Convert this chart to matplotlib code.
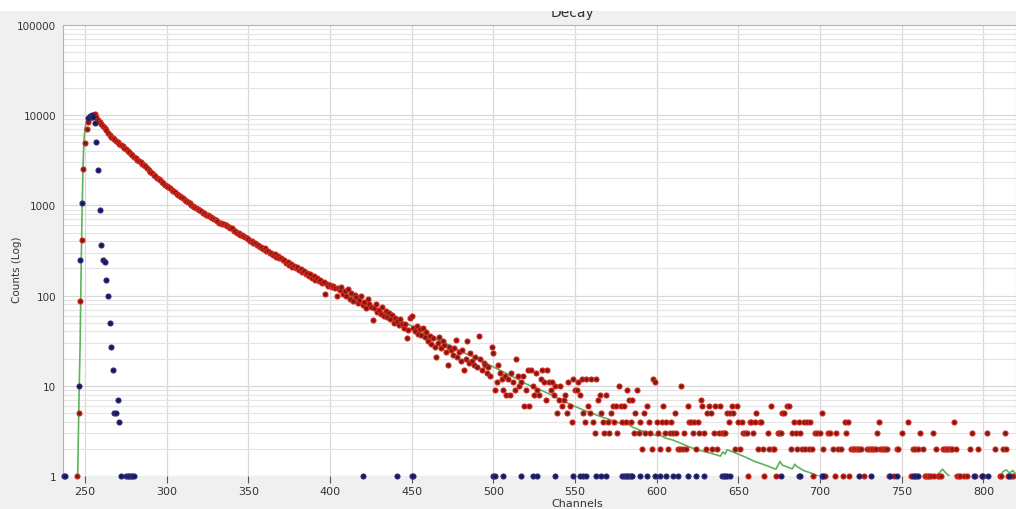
import numpy as np
import matplotlib
matplotlib.use('Agg')
import matplotlib.pyplot as plt
from matplotlib.ticker import LogLocator, NullFormatter

# decay data: one count per channel starting at first_channel (0 = no count)
first_channel = 245
decay_counts = [
    1, 5, 87, 415, 2560, 4900, 7100, 8500, 9300, 9700, 10000,
    10300, 9500, 8900, 8300, 7900, 7500, 7200, 6800, 6400, 6000,
    5800, 5600, 5400, 5200, 5000, 4850, 4700, 4550, 4350, 4200,
    4050, 3900, 3750, 3600, 3450, 3350, 3200, 3100, 3000, 2900,
    2780, 2700, 2580, 2480, 2350, 2290, 2200, 2130, 2020, 1950,
    1900, 1820, 1770, 1700, 1650, 1590, 1560, 1500, 1440, 1400,
    1350, 1310, 1270, 1240, 1200, 1160, 1120, 1090, 1050, 1020,
    990, 960, 940, 910, 890, 860, 830, 815, 790, 775,
    760, 745, 725, 705, 690, 680, 645, 640, 625, 615,
    605, 585, 580, 555, 555, 525, 520, 500, 495, 475,
    470, 455, 450, 430, 428, 405, 402, 385, 383, 365,
    362, 345, 348, 330, 333, 312, 315, 298, 300, 285,
    286, 270, 272, 258, 262, 245, 248, 232, 236, 220,
    224, 210, 214, 200, 206, 190, 196, 182, 188, 174,
    180, 165, 172, 158, 166, 150, 157, 144, 150, 137,
    142, 105, 135, 128, 132, 124, 127, 120, 100, 122,
    116, 124, 104, 112, 98, 118, 92, 108, 88, 101,
    96, 82, 90, 100, 79, 86, 72, 91, 80, 75,
    53, 72, 80, 66, 70, 63, 75, 60, 68, 58,
    64, 55, 61, 50, 57, 52, 47, 55, 49, 44,
    48, 34, 42, 57, 59, 44, 40, 46, 38, 43,
    37, 44, 35, 39, 31, 36, 29, 34, 27, 21,
    30, 35, 26, 31, 28, 24, 17, 27, 25, 22,
    26, 32, 21, 24, 19, 25, 15, 20, 31, 18,
    23, 19, 17, 21, 16, 36, 20, 15, 18, 17,
    14, 16, 13, 27, 23, 9, 11, 17, 14, 12,
    9, 13, 8, 12, 8, 14, 11, 9, 20, 13,
    10, 11, 13, 6, 9, 15, 6, 15, 10, 8,
    14, 9, 8, 12, 15, 11, 7, 15, 11, 9,
    11, 8, 10, 5, 7, 10, 6, 7, 8, 5,
    11, 6, 4, 12, 9, 9, 11, 8, 12, 5,
    4, 12, 6, 5, 12, 4, 3, 12, 7, 8,
    5, 4, 3, 8, 4, 3, 5, 6, 4, 6,
    3, 10, 6, 4, 6, 4, 9, 7, 4, 7,
    3, 5, 9, 3, 4, 2, 5, 3, 6, 4,
    3, 2, 12, 11, 4, 3, 2, 4, 6, 3,
    4, 2, 3, 4, 3, 5, 3, 2, 2, 10,
    2, 3, 2, 6, 4, 4, 3, 4, 2, 4,
    3, 7, 6, 3, 2, 5, 6, 5, 2, 3,
    6, 2, 3, 6, 3, 3, 3, 5, 4, 5,
    6, 5, 2, 6, 4, 2, 4, 3, 3, 3,
    1, 4, 4, 3, 4, 5, 2, 4, 4, 2,
    1, 0, 3, 2, 6, 2, 2, 1, 3, 3,
    3, 5, 5, 0, 6, 6, 2, 3, 4, 3,
    2, 4, 3, 2, 4, 2, 4, 2, 4, 2,
    1, 3, 3, 0, 3, 5, 2, 1, 0, 3,
    3, 0, 2, 1, 3, 2, 0, 2, 1, 4,
    3, 4, 1, 2, 2, 2, 2, 2, 2, 2,
    0, 1, 0, 2, 2, 2, 2, 2, 2, 3,
    4, 2, 2, 2, 2, 2, 1, 0, 0, 1,
    0, 2, 2, 0, 3, 0, 0, 0, 4, 0,
    1, 2, 2, 1, 2, 3, 0, 2, 1, 1,
    1, 1, 1, 3, 1, 2, 1, 1, 1, 2,
    2, 2, 2, 2, 2, 2, 4, 2, 1, 1,
    1, 0, 1, 0, 1, 0, 2, 3, 0, 1,
    0, 2, 0, 1, 1, 0, 3, 0, 0, 0,
    0, 2, 0, 0, 1, 1, 2, 3, 2, 1,
    0, 1, 1,
]

# instrument response (IRF) points
irf_channels = [237, 238, 246, 247, 248, 252, 253, 254, 255, 256, 257, 258,
                259, 260, 261, 262, 263, 264, 265, 266, 267, 268, 269, 270,
                271, 272, 275, 276, 277, 278, 279, 280,
                420, 441, 450, 451, 500, 501, 506, 517, 524, 527, 538, 549,
                553, 555, 557, 563, 566, 569, 579, 580, 581, 582, 583, 584,
                585, 590, 594, 599, 602, 606, 610, 613, 619, 624, 629, 640,
                641, 642, 643, 645, 676, 687, 688, 701, 702, 724, 731, 743,
                747, 757, 758, 760, 794, 799, 803, 816]
irf_counts = [1, 1, 10, 248, 1050, 9200, 9900, 10000, 9600, 8100, 5000, 2460,
              890, 360, 245, 235, 150, 100, 50, 27, 15, 5, 5, 7,
              4, 1, 1, 1, 1, 1, 1, 1,
              1, 1, 1, 1, 1, 1, 1, 1, 1, 1, 1, 1,
              1, 1, 1, 1, 1, 1, 1, 1, 1, 1, 1, 1,
              1, 1, 1, 1, 1, 1, 1, 1, 1, 1, 1, 1,
              1, 1, 1, 1, 1, 1, 1, 1, 1, 1, 1, 1,
              1, 1, 1, 1, 1, 1, 1, 1]

# fitted curve vertices
fit_channels = [245.0, 245.5, 246.2, 247.0, 247.6, 248.2, 248.8, 249.3, 250.0,
                251.0, 252.5, 254.0, 255.5, 258, 260, 265, 270, 275, 280, 285,
                290, 295, 300, 305, 310, 315, 320, 325, 330, 335, 340, 345,
                350, 355, 360, 365, 370, 375, 380, 385, 390, 395, 400, 405,
                410, 415, 420, 425, 430, 435, 440, 445, 450, 455, 460, 465,
                470, 475, 480, 485, 490, 495, 500, 505, 510, 515, 520, 525,
                530, 535, 540, 545, 550, 555, 560, 565, 570, 575, 580, 582,
                585, 590, 595, 600, 602, 605, 610, 615, 620, 625, 630, 635,
                639, 640.5, 642, 643, 645, 650, 655, 660, 665, 670, 673,
                675.5, 677, 683, 684.5, 686, 690, 695, 700, 705, 720, 730,
                732, 734, 760, 770, 773, 775, 777, 780, 785, 787, 800, 810,
                812, 814, 816, 818, 820]
fit_counts = [0.9, 1.0, 6, 30, 200, 900, 2800, 5200, 7200,
              8600, 9600, 10100, 10200, 9000, 8000, 6100, 5000, 4200, 3450, 2880,
              2350, 1960, 1650, 1400, 1200, 1030, 890, 775, 690, 615, 550, 482,
              425, 372, 330, 290, 257, 225, 200, 178, 158, 142, 129, 118,
              105, 94, 84, 76, 69, 62, 56, 51, 46, 41, 37, 33,
              30, 27, 24, 22, 20, 18, 16.2, 14.6, 13.1, 11.8, 10.5, 9.6,
              8.8, 8.0, 7.2, 6.5, 5.9, 5.4, 5.0, 4.6, 4.3, 4.0, 3.7, 3.8,
              3.5, 3.2, 3.0, 2.8, 2.85, 2.65, 2.5, 2.3, 2.1, 1.95, 1.85, 1.75,
              1.66, 1.85, 1.75, 1.95, 1.9, 1.75, 1.6, 1.45, 1.35, 1.25, 1.19,
              1.45, 1.32, 1.2, 1.35, 1.27, 1.15, 1.07, 0.98, 0.9, 0.8, 0.95,
              1.02, 0.95, 0.85, 0.95, 1.08, 1.19, 1.08, 0.97, 1.02, 0.97, 0.9, 0.97,
              1.12, 1.17, 1.08, 1.15, 1.05]

x_ticks = [250, 300, 350, 400, 450, 500, 550, 600, 650, 700, 750, 800]
y_ticks = [1, 10, 100, 1000, 10000, 100000]

decay = np.array(decay_counts, dtype=float)
decay_ch = np.arange(first_channel, first_channel + len(decay))
decay[decay <= 0] = np.nan

W, H = 1016, 510
fig = plt.figure(figsize=(W / 100, H / 100), dpi=100, facecolor='#f0f0f0')


def bare_axes(rect, color):
    # plain coloured box with no ticks or frame
    a = fig.add_axes(rect)
    a.set_facecolor(color)
    a.set_xticks([])
    a.set_yticks([])
    for sp in a.spines.values():
        sp.set_visible(False)
    return a


# white strip at the very top, grey header band below it
strip = bare_axes([0, 1 - 12 / H, 1, 12 / H], 'white')
header = bare_axes([0, 1 - 26 / H, 1, 14 / H], '#f0f0f0')
# the title sits mostly above the header band, so only its lower part shows
header.text(572 / W, 0.62, 'Decay', ha='center', va='baseline', fontsize=10,
            color='#333333', transform=header.transAxes, clip_on=True)

ax = fig.add_axes([63 / W, 1 - 477 / H, 1 - 63 / W, (477 - 26) / H])
ax.set_facecolor('white')
ax.set_yscale('log')
ax.set_xlim(236.5, 820)
ax.set_ylim(1, 100000)

ax.plot(fit_channels, fit_counts, color='#5db35d', lw=1.2, zorder=2)
ax.plot(decay_ch, decay, ls='none', marker='o', ms=3.6, mfc='#7a1a12',
        mec='#d8281e', mew=0.8, zorder=3, clip_on=False)
ax.plot(irf_channels, irf_counts, ls='none', marker='o', ms=3.6, mfc='#1a1a4a',
        mec='#2c2c80', mew=0.8, zorder=4, clip_on=False)

ax.set_yticks(y_ticks)
ax.set_yticklabels([str(v) for v in y_ticks])
ax.yaxis.set_minor_locator(LogLocator(base=10, subs=np.arange(2, 10)))
ax.yaxis.set_minor_formatter(NullFormatter())
ax.set_xticks(x_ticks)

ax.grid(which='major', axis='both', color='#d9d9d9', lw=0.9, zorder=0)
ax.grid(which='minor', axis='y', color='#e4e4e4', lw=0.8, zorder=0)
ax.set_axisbelow(True)

ax.tick_params(axis='y', which='both', length=0, labelsize=7.5, pad=5,
               labelcolor='#333333')
ax.tick_params(axis='x', which='major', direction='out', length=5, width=0.8,
               color='#555555', labelsize=8, pad=2, labelcolor='#333333')
for side, sp in ax.spines.items():
    sp.set_color('#b4b4b4')
    sp.set_linewidth(0.8)
ax.spines['bottom'].set_visible(False)

fig.text(17 / W, 1 - 270 / H, 'Counts (Log)', rotation=90, ha='center',
         va='center', fontsize=7.5, color='#333333')
fig.text(577 / W, 1 - 509 / H, 'Channels', ha='center', va='bottom',
         fontsize=8, color='#333333')

fig.savefig('out.png', dpi=100, facecolor=fig.get_facecolor())
